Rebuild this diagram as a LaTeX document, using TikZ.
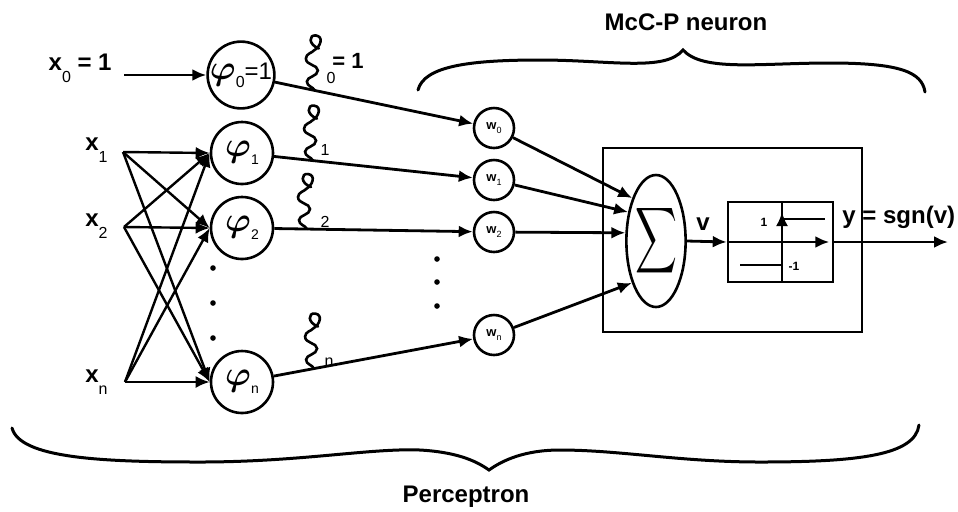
\documentclass[tikz,border=0pt]{standalone}
\usepackage{fontspec}
\setmainfont{Liberation Sans}
\usepackage{amsmath}
\usepackage{graphicx}
\usetikzlibrary{arrows.meta,shapes.geometric,calc}
\newcommand{\lowsub}[3][8]{{\fontsize{#1}{#1}\selectfont\mdseries\raisebox{-#2em}{#3}}}
\newcommand{\phisym}{\ensuremath{\boldsymbol{\varphi}}}
\tikzset{
  arr/.style={line width=1.4pt,-{Latex[length=7pt,width=6pt]}},
  unit/.style={circle,draw,line width=1.3pt,minimum size=31pt,inner sep=0pt,font=\fontsize{18}{18}\selectfont},
  weight/.style={circle,draw,line width=1.3pt,minimum size=20pt,inner sep=0pt,font=\fontsize{6.5}{6.5}\selectfont\bfseries},
  lbl/.style={font=\fontsize{12}{12}\selectfont\bfseries,inner sep=0pt},
  sublbl/.style={font=\fontsize{8}{8}\selectfont,inner sep=0pt},
  tiny/.style={font=\fontsize{6}{6}\selectfont\bfseries,inner sep=0pt},
  bracecurve/.style={line width=1.5pt,line cap=round},
  wiggle/.pic={\draw[line width=1.3pt,line cap=round]
    (0,0) .. controls (-2,-4) and (-8,-4) .. (-8,-9)
    .. controls (-8,-14) and (3,-14) .. (3,-20)
    .. controls (3,-26) and (-9,-25) .. (-9,-32)
    .. controls (-9,-37) and (-2,-38) .. (-1,-40)
    .. controls (6,-44) and (9,-54) .. (1,-55)
    .. controls (-6,-56) and (-7,-46) .. (4,-42);}
}
\begin{document}
\begin{tikzpicture}[x=0.5pt,y=-0.5pt]
\useasboundingbox (0,0) rectangle (958,511);
% inputs
\coordinate (x0) at (124,75);
\coordinate (x1) at (123,152);
\coordinate (x2) at (124,227);
\coordinate (xn) at (125,382);
\node[lbl,anchor=base east] (lx0) at (112,70) {x\lowsub{.75}{0} = 1};
\node[lbl,anchor=base east] (lx1) at (108,150) {x\lowsub{.75}{1}};
\node[lbl,anchor=base east] (lx2) at (108,226) {x\lowsub{.75}{2}};
\node[lbl,anchor=base east] (lxn) at (108,382) {x\lowsub{.75}{n}};
% hidden units
\node[unit] (phi0) at (241,75) {\phisym\lowsub{.5}{0}{\fontsize{12}{12}\selectfont=1}};
\node[unit] (phi1) at (242,153) {\phisym\lowsub[7]{.55}{1}};
\node[unit] (phi2) at (242,228) {\phisym\lowsub[7]{.55}{2}};
\node[unit] (phin) at (242,382) {\phisym\lowsub[7]{.55}{n}};
\foreach \y in {268,303,338} \fill (213,\y) circle[radius=2.8];
\draw[arr] (x0) -- (phi0);
\foreach \i in {x1,x2,xn}
  \foreach \j in {phi1,phi2,phin}
    \draw[arr,line width=1.2pt] (\i) -- (\j.west);
% weights
\node[weight] (w0) at (494,128) {w\lowsub[4.5]{.4}{0}};
\node[weight] (w1) at (494,180) {w\lowsub[4.5]{.4}{1}};
\node[weight] (w2) at (494,232) {w\lowsub[4.5]{.4}{2}};
\node[weight] (wn) at (494,335) {w\lowsub[4.5]{.4}{n}};
\foreach \y in {259,282,306} \fill (437,\y) circle[radius=2.8];
\foreach \k in {0,1,2,n} \draw[arr] (phi\k) -- (w\k);
\path ($(phi0)!0.292!(w0)$) pic {wiggle};
\path ($(phi1)!0.282!(w1)$) pic {wiggle};
\path ($(phi2)!0.258!(w2)$) pic {wiggle};
\path ($(phin)!0.286!(wn)$) pic {wiggle};
\node[sublbl] (s0) at (331,78) {0};
\node[lbl,font=\fontsize{11}{11}\selectfont\bfseries] (eq0) at (348,61) {= 1};
\node[sublbl] (s1) at (325,150) {1};
\node[sublbl] (s2) at (325,222) {2};
\node[sublbl] (sn) at (329,362) {n};
% McC-P neuron
\node[draw,line width=1.3pt,minimum width=129.5pt,minimum height=92pt,inner sep=0pt] (neuron) at (732.5,240) {};
\node[ellipse,draw,line width=1.3pt,minimum width=26pt,minimum height=66pt,inner sep=0pt] (sigma) at (656,241) {\scalebox{1.45}[2.3]{$\displaystyle\sum$}};
\draw[arr] (w0) -- (sigma.119);
\draw[arr] (w1) -- (sigma.134);
\draw[arr] (w2) -- (sigma.165);
\draw[arr] (wn) -- (sigma.240);
\node[draw,line width=1.3pt,minimum width=52.5pt,minimum height=40pt,inner sep=0pt] (sgnbox) at (780.5,242) {};
\coordinate (yout) at (948,242);
\draw[arr] (sigma.east) -- (sgnbox.west);
\draw[arr] (sgnbox.west) -- ($(sgnbox.east)+(-5,0)$);
\draw[arr] (sgnbox.east) -- (yout);
\draw[line width=1.2pt] (782,282) -- (782,202);
\draw[arr,line width=1.2pt] (782,282) -- (782,212);
\draw[line width=1.4pt] (783,219) -- (825,219);
\draw[line width=1.4pt] (740,265) -- (782,265);
\node[tiny] (one) at (764,222) {1};
\node[tiny] (mone) at (794,266) {-1};
\node[lbl] (v) at (703,224) {v};
\node[lbl,anchor=west] (ylbl) at (842,217) {y = sgn(v)};
% braces
\draw[bracecurve] (418,90) .. controls (424,66) and (470,60) .. (540,60)
  .. controls (610,60) and (665,72) .. (683,50)
  .. controls (703,72) and (760,63) .. (830,63)
  .. controls (900,63) and (922,72) .. (925,92);
\node[lbl] (mcp) at (686,22) {McC-P neuron};
\draw[bracecurve] (12,428) .. controls (20,458) and (100,462) .. (200,462)
  .. controls (300,462) and (370,448) .. (420,450)
  .. controls (455,452) and (475,460) .. (489,470)
  .. controls (503,460) and (525,450) .. (560,450)
  .. controls (620,450) and (680,462) .. (760,462)
  .. controls (860,462) and (915,455) .. (919,425);
\node[lbl] (perc) at (466,497) {Perceptron};
\end{tikzpicture}
\end{document}
